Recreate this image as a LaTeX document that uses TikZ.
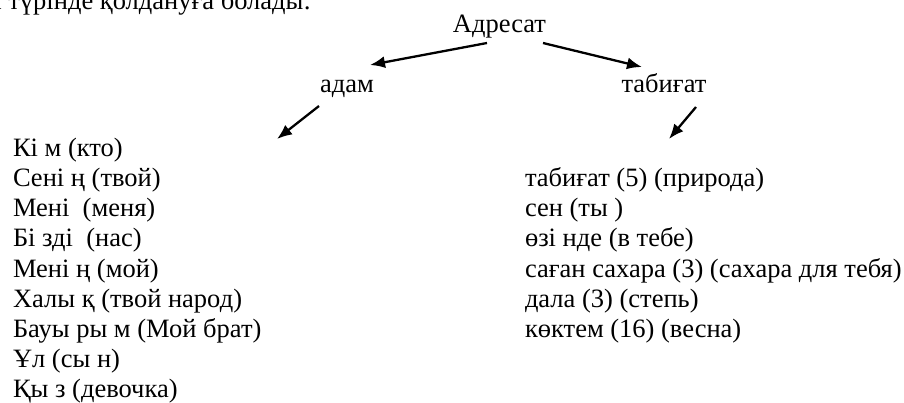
\documentclass[tikz,border=0pt]{standalone}
\usepackage{fontspec}
\setmainfont{Liberation Serif}
\newfontfamily\serifrm{Liberation Serif}
\usetikzlibrary{arrows.meta}
\tikzset{
  txt/.style={inner sep=0pt, outer sep=0pt, font=\serifrm\fontsize{26.5}{30}\selectfont},
  lefttxt/.style={txt, anchor=base west},
  ctrtxt/.style={txt, anchor=base},
  arr/.style={line width=2.3pt, -{Latex[length=15pt,width=12pt]}}
}
\begin{document}
\begin{tikzpicture}[x=1pt,y=-1pt]
\useasboundingbox (0,0) rectangle (904,403);
\begin{scope}
\clip (0,0) rectangle (904,403);
\node[lefttxt] (top) at (-10,10) {а түрінде қолдануға болады:};
\end{scope}
% headings
\node[ctrtxt] (adr) at (499.5,33) {Адресат};
\node[ctrtxt] (adam) at (347,93) {адам};
\node[ctrtxt] (tab) at (664,93) {табиғат};
% arrow ends
\coordinate (a1s) at (487,43); \coordinate (a1e) at (370,65);
\coordinate (a2s) at (543,43); \coordinate (a2e) at (642,67);
\coordinate (a3s) at (319,106); \coordinate (a3e) at (277,139);
\coordinate (a4s) at (696,107); \coordinate (a4e) at (669,139);
\draw[arr] (a1s) -- (a1e);
\draw[arr] (a2s) -- (a2e);
\draw[arr] (a3s) -- (a3e);
\draw[arr] (a4s) -- (a4e);
% left column
\node[lefttxt] (l1) at (13,157) {Кі м (кто)};
\node[lefttxt] (l2) at (13,187) {Сені ң (твой)};
\node[lefttxt] (l3) at (13,217) {Мені\ \ (меня)};
\node[lefttxt] (l4) at (13,247) {Бі зді\ \ (нас)};
\node[lefttxt] (l5) at (13,277) {Мені ң (мой)};
\node[lefttxt] (l6) at (13,307) {Халы қ (твой народ)};
\node[lefttxt] (l7) at (13,337) {Бауы ры м (Мой брат)};
\node[lefttxt] (l8) at (13,367) {Ұл (сы н)};
\node[lefttxt] (l9) at (13,397) {Қы з (девочка)};
% right column
\node[lefttxt] (r1) at (525,187) {табиғат (5) (природа)};
\node[lefttxt] (r2) at (525,217) {сен (ты )};
\node[lefttxt] (r3) at (525,247) {өзі нде (в тебе)};
\node[lefttxt] (r4) at (525,277) {саған сахара (3) (сахара для тебя)};
\node[lefttxt] (r5) at (525,307) {дала (3) (степь)};
\node[lefttxt] (r6) at (525,337) {көктем (16) (весна)};
\end{tikzpicture}
\end{document}
